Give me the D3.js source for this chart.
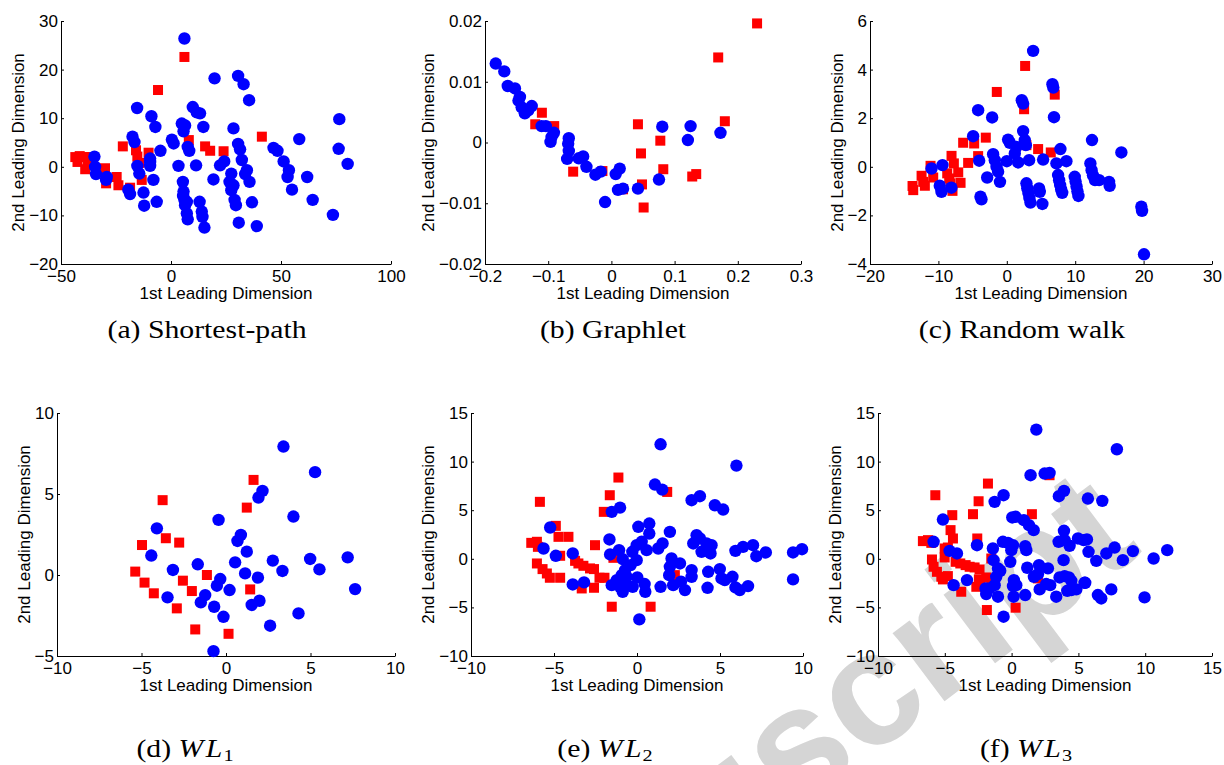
<!DOCTYPE html>
<html>
<head>
<meta charset="utf-8">
<script src="https://cdn.jsdelivr.net/npm/d3@7"></script>
<style>
  body { margin: 0; background: #fff; }
  svg { display: block; }
</style>
</head>
<body>
<svg id="fig" width="1224" height="765"></svg>
<script>
// ---- Shortest-path kernel embedding ----
const shortestPathBlue = [[6.1,26.4],[19.8,18.2],[30.5,18.7],[33,17],[35.5,13.7],[-15.4,12.1],[-8.9,10.4],[-7.1,8.2],[9.9,12.3],[11.7,11.2],[13.2,11],[14.7,8.2],[4.9,8.9],[6.4,8.5],[5.7,7.3],[-17.5,6.2],[-16.6,5.1],[-4.8,3.3],[-9.5,1.7],[-9.5,0.2],[-8,-2.7],[-6.5,-7.2],[-12.2,-8],[-12.5,-5.3],[-19.4,-4.7],[-18.6,-5.6],[-15.3,0.2],[-14.4,-1.4],[-34.8,2.1],[-34.5,0],[-34.1,-1.5],[-29.2,-2.1],[-29.5,-2.7],[0.4,5.6],[1.2,4.8],[7.6,4.1],[8.3,3.3],[3.4,0.2],[11.4,0.3],[5.4,-3.1],[5.7,-5.1],[6.1,-6.8],[7.2,-7.2],[6.4,-7.9],[7.2,-9.6],[7.6,-10.8],[13,-7.2],[14,-9.2],[14.3,-10.3],[15.2,-12.5],[19.3,-2.6],[22.3,0.3],[24.2,1.1],[28.4,7.9],[30.5,4.7],[31.4,3.6],[32.2,1.4],[27.4,-1.4],[26.6,-3.1],[28.4,-3.8],[27.4,-4.8],[28.9,-6.8],[29.5,-7.9],[30.8,-11.5],[34.5,-0.7],[33.7,-1.5],[35.7,-3.1],[36.8,-7.3],[39,-12.2],[46.6,3.9],[48.4,3.3],[51.2,1.1],[53.6,-0.7],[53,-2.1],[55,-4.7],[58.3,5.7],[61.9,-2.1],[64.4,-6.8],[73.6,-9.9],[76.5,9.8],[76.2,3.7],[80.3,0.6],[-9.5,1.0],[5.5,-6.0]];
const shortestPathRed = [[-43.5,2.0],[-41.5,2.2],[-39.5,2.0],[-37.5,2.0],[-42.5,1.0],[-39,-0.5],[-37.8,0.5],[-30,-0.3],[-29.5,-3.4],[-24.7,-2.1],[-23.9,-3.8],[-21.9,4.2],[-15.9,3.4],[-15.3,2.1],[-14.4,0.8],[-13.3,-2.7],[-10.2,2.9],[-5.9,15.8],[6.1,22.6],[8.1,5.5],[15.5,4.2],[17.8,3.3],[23.9,3.2],[41.3,6.2],[-18.6,-4.3]];

// ---- Graphlet kernel embedding ----
const graphletBlue = [[-0.183,0.013],[-0.1695,0.0117],[-0.164,0.0093],[-0.1526,0.0089],[-0.1447,0.0075],[-0.147,0.0069],[-0.142,0.0058],[-0.137,0.0048],[-0.126,0.006],[-0.1316,0.0053],[-0.1105,0.0027],[-0.1037,0.0027],[-0.091,0.0016],[-0.0947,0.0009],[-0.0963,0.0001],[-0.0674,0.0007],[-0.0684,-0.0002],[-0.0674,-0.0014],[-0.07,-0.0027],[-0.0516,-0.0026],[-0.0447,-0.0023],[-0.0395,-0.004],[-0.0253,-0.0053],[-0.0168,-0.0048],[-0.01,-0.0098],[0.0068,-0.0052],[0.0132,-0.0043],[0.0105,-0.0078],[0.0184,-0.0076],[0.042,-0.0076],[0.0753,-0.0061],[0.0805,0.0026],[0.121,0.0004],[0.1253,0.0027],[0.1726,0.0016]];
const graphletRed = [[0.2305,0.0196],[0.169,0.014],[0.1795,0.0035],[-0.11,0.0049],[-0.1205,0.003],[-0.0905,0.0027],[-0.0605,-0.0048],[-0.0142,-0.0047],[0.042,0.003],[0.0468,-0.0018],[0.0484,-0.0069],[0.051,-0.0107],[0.0774,0.0003],[0.0821,-0.0044],[0.1279,-0.0056],[0.1342,-0.0052],[0.0184,-0.0077]];

// ---- Random walk kernel embedding ----
const randomWalkBlue = [[3.85,4.77],[6.67,3.4],[6.8,3.26],[6.9,2.04],[2.19,2.74],[2.39,2.6],[-4.19,2.33],[-2.14,2.03],[-4.92,1.26],[0.19,1.12],[0.44,0.99],[2.39,1.47],[2.63,1.1],[2.78,0.89],[1.41,0.82],[1.17,0.55],[1.66,0.18],[3.26,0.27],[5.31,0.3],[0,0.23],[-2,0.52],[-1.75,0.27],[-1.5,0],[-1.27,-0.2],[-1,-0.62],[-2.87,-0.44],[-4.04,0.25],[-3.85,-1.23],[-3.7,-1.34],[-11,-0.07],[-9.4,0.07],[-9.8,-0.78],[-9.55,-1.03],[-8.1,-0.86],[2.87,-0.68],[3.0,-0.88],[3.16,-1.08],[3.3,-1.28],[3.46,-1.47],[4.72,-0.89],[4.82,-1.03],[5.2,-1.53],[7.25,0.14],[7.84,0.73],[8.71,0.23],[7.5,-0.34],[7.65,-0.55],[7.8,-0.75],[7.95,-0.93],[8.1,-1.07],[9.93,-0.41],[10.06,-0.61],[10.2,-0.81],[10.33,-1.01],[10.47,-1.2],[12.46,1.1],[12.22,0.14],[12.4,-0.14],[12.6,-0.35],[12.9,-0.55],[13.5,-0.55],[14.95,-0.62],[15.04,-0.78],[16.75,0.59],[19.67,-1.64],[19.77,-1.81],[20.06,-3.6]];
const randomWalkRed = [[2.68,4.15],[-1.46,3.08],[7.01,2.97],[2.53,2.37],[-3.07,1.2],[-6.38,0.99],[-4.77,0.96],[4.58,0.73],[6.43,0.59],[2.87,0.89],[-5.65,0.16],[-4.19,0.44],[-8.08,0.45],[-7.74,0.14],[-7.1,-0.23],[-6.76,-0.66],[-8.71,-0.27],[-8.42,-0.48],[-8.23,-0.68],[-7.94,-0.99],[-12.46,-0.37],[-12.22,-0.62],[-11.98,-0.78],[-10.76,-0.44],[-13.78,-0.79],[-13.68,-0.96],[-11.15,0.04]];

// ---- WL kernel, h = 1 ----
const wl1Blue = [[3.4,7.93],[5.27,6.35],[2.16,5.19],[1.92,4.78],[3.99,3.61],[-0.44,3.4],[-4.09,2.88],[0.88,2.47],[0.68,2.1],[1.23,1.44],[-4.42,1.2],[0.54,0.78],[2.77,0.89],[4.98,0.99],[7.2,1.09],[1.13,0.1],[3.34,0.25],[5.53,0.35],[-1.67,0.66],[-3.14,0.31],[1.89,-0.16],[-0.34,-0.25],[-0.54,-0.66],[0.21,-0.93],[7.64,-0.87],[-1.23,-1.24],[-1.49,-1.69],[-3.46,-1.38],[-0.7,-1.96],[1.98,-1.59],[1.52,-1.85],[-0.15,-2.58],[4.29,-2.37],[2.61,-3.13],[-0.74,-4.7]];
const wl1Red = [[1.63,5.87],[1.23,4.16],[-3.75,4.62],[-3.56,2.27],[-2.77,2.0],[-4.97,1.85],[-5.37,0.21],[-4.82,-0.47],[-4.27,-1.13],[-2.55,-0.35],[-2.02,-0.99],[-2.91,-2.06],[-1.13,0],[1.43,-0.89],[-1.82,-3.36],[0.15,-3.63]];

// ---- WL kernel, h = 2 ----
const wl2Blue = [[1.42,11.78],[5.99,9.59],[1.08,7.64],[1.52,7.12],[3.29,6.03],[3.79,6.44],[4.69,5.51],[5.19,5.07],[-1.52,4.83],[-1.02,5.27],[-5.23,3.22],[0.08,3.29],[0.74,3.63],[0.74,2.6],[1.98,2.77],[-1.66,1.99],[-0.02,1.4],[0.28,1.75],[0.58,0.89],[-0.28,0.72],[-0.02,-0.14],[-1.08,0.89],[-0.86,-0.03],[-1.62,0.45],[1.28,1.06],[1.54,1.58],[3.39,1.58],[3.59,2.43],[3.79,2.09],[3.89,0.72],[4.19,1.58],[4.49,1.4],[4.43,0.55],[-5.63,1.06],[-4.89,0.31],[-3.87,0.55],[-3.87,-2.64],[-3.19,-2.43],[2.08,0.03],[1.98,-0.82],[2.59,-0.48],[1.94,-1.68],[1.42,-2.88],[2.18,-2.71],[2.65,-2.36],[2.89,-3.22],[3.29,-1.16],[3.29,-1.85],[4.29,-1.34],[4.25,-2.98],[4.99,-1.06],[5.09,-2.02],[5.29,-2.19],[5.75,-1.85],[5.93,-2.95],[6.19,-3.22],[6.69,-2.81],[5.93,0.82],[6.39,1.23],[6.99,1.4],[7.19,0.27],[7.76,0.65],[9.4,0.65],[9.94,0.99],[9.4,-2.12],[0.14,-6.23],[0.46,-2.6],[0.5,-3.39],[-0.26,-2.88],[0.02,-1.92],[-1.52,-2.71],[-1.22,-2.19],[-1.02,-2.88],[-0.86,-3.39],[-0.72,-2.53],[-0.62,-1.85],[-0.92,-1.68],[-0.72,-1.16],[-0.38,-0.65]];
const wl2Red = [[-1.12,8.36],[-1.64,6.54],[-2.0,4.83],[1.82,6.88],[-5.85,5.86],[-4.89,3.39],[-4.73,2.26],[-4.13,2.26],[-2.53,1.4],[-6.37,1.64],[-6.03,1.75],[-5.97,1.23],[-4.63,0.31],[-6.03,-0.48],[-5.69,-1.06],[-5.43,-1.51],[-5.25,-1.95],[-4.63,-1.95],[-3.73,-0.21],[-3.53,-0.48],[-3.23,-0.72],[-2.83,-0.99],[-2.59,-1.06],[-2.26,-1.95],[-1.96,-1.95],[-3.33,-3.05],[-2.59,-2.98],[-1.52,-4.93],[0.82,-4.93],[-1.42,0.1],[2.28,-1.68]];

// ---- WL kernel, h = 3 ----
const wl3Blue = [[1.85,13.29],[7.88,11.27],[1.42,8.6],[2.47,8.77],[2.84,8.84],[3.54,6.44],[3.92,6.99],[5.71,6.2],[6.79,5.96],[-1.27,5.86],[-0.6,6.54],[-5.14,4.04],[0.05,4.25],[0.3,4.32],[0.92,3.97],[1.3,3.46],[1.65,2.95],[3.92,2.88],[3.97,1.92],[3.52,1.75],[4.34,1.34],[4.97,2.09],[5.39,1.92],[5.64,1.99],[5.76,0.72],[6.34,-0.21],[7.09,0.55],[7.71,1.16],[8.33,-0.14],[9.08,0.79],[10.63,0.03],[11.65,0.89],[9.95,-3.97],[7.46,-3.15],[6.46,-3.73],[6.71,-4.08],[5.46,-2.47],[3.89,-0.14],[-5.84,1.75],[-4.64,0.82],[-4.09,0.55],[-2.59,1.4],[-4.34,-2.71],[-3.34,-2.19],[-1.4,1.06],[-0.65,1.75],[-0.27,1.64],[0.1,1.4],[-0.02,0.89],[1.02,1.3],[1.1,0.89],[-1.35,-0.14],[-1.02,-0.99],[-0.85,-1.23],[-0.1,-0.31],[-1.15,-1.85],[-1.27,-2.71],[-1.65,-3.05],[-1.95,-3.05],[-1.9,-3.63],[-1.02,-3.9],[0.17,-2.19],[0.1,-2.81],[0.35,-2.71],[0.15,-3.9],[1.02,-3.73],[1.17,-0.92],[2.05,-0.65],[2.72,-0.99],[1.67,-1.85],[1.97,-1.58],[2.1,-3.15],[2.59,-2.6],[2.89,-2.71],[3.34,-3.9],[3.59,-1.92],[3.97,-1.78],[4.29,-1.92],[4.47,-2.26],[4.17,-3.29],[4.47,-3.22],[4.84,-3.15],[5.51,-2.47],[-0.6,-5.96]];
const wl3Red = [[-1.77,7.74],[-5.71,6.54],[-2.47,5.92],[-4.44,4.49],[-2.89,4.59],[1.52,4.59],[2.84,8.6],[-4.57,2.95],[-4.39,2.09],[-6.64,1.82],[-6.26,1.92],[-6.01,1.64],[-2.57,2.09],[-5.01,1.06],[-4.77,1.16],[-5.96,-0.07],[-5.84,-0.82],[-5.59,-1.34],[-5.26,-1.85],[-5.14,-2.12],[-4.77,-1.78],[-5.01,0.14],[-4.19,-0.31],[-3.84,-0.48],[-3.44,-0.65],[-3.14,-0.82],[-2.77,-0.89],[-2.4,-1.1],[-1.9,-1.92],[-2.45,-2.12],[-2.64,-2.88],[-2.35,-2.71],[-1.52,0.03],[-3.77,-3.39],[-1.85,-5.27],[0.3,-5.03],[1.97,-2.02],[-1.52,-2.71]];

// ---- Axis ticks ----
const shortestPathXTicks = [-50, 0, 50, 100];
const shortestPathYTicks = [-20, -10, 0, 10, 20, 30];
const graphletXTicks = [-0.2, -0.1, 0, 0.1, 0.2, 0.3];
const graphletYTicks = [-0.02, -0.01, 0, 0.01, 0.02];
const randomWalkXTicks = [-20, -10, 0, 10, 20, 30];
const randomWalkYTicks = [-4, -2, 0, 2, 4, 6];
const wl1XTicks = [-10, -5, 0, 5, 10];
const wl1YTicks = [-5, 0, 5, 10];
const wl2XTicks = [-10, -5, 0, 5, 10];
const wl2YTicks = [-10, -5, 0, 5, 10, 15];
const wl3XTicks = [-10, -5, 0, 5, 10, 15];
const wl3YTicks = [-10, -5, 0, 5, 10, 15];

const xAxisTitle = "1st Leading Dimension";
const yAxisTitle = "2nd Leading Dimension";

// Panel layout (pixel frame of each axes box) and captions
const panels = [
  { blue: shortestPathBlue, red: shortestPathRed, xTicks: shortestPathXTicks, yTicks: shortestPathYTicks,
    frame: { left: 61, right: 391, top: 21, bottom: 264 }, caption: { tag: "(a)", text: "Shortest-path" }, capX: 207, capY: 338 },
  { blue: graphletBlue, red: graphletRed, xTicks: graphletXTicks, yTicks: graphletYTicks,
    frame: { left: 485, right: 801, top: 21, bottom: 264 }, caption: { tag: "(b)", text: "Graphlet" }, capX: 613, capY: 338 },
  { blue: randomWalkBlue, red: randomWalkRed, xTicks: randomWalkXTicks, yTicks: randomWalkYTicks,
    frame: { left: 870, right: 1212, top: 21, bottom: 264 }, caption: { tag: "(c)", text: "Random walk" }, capX: 1022, capY: 338 },
  { blue: wl1Blue, red: wl1Red, xTicks: wl1XTicks, yTicks: wl1YTicks,
    frame: { left: 57, right: 395, top: 413, bottom: 656 }, caption: { tag: "(d)", wl: "1" }, capX: 185, capY: 757 },
  { blue: wl2Blue, red: wl2Red, xTicks: wl2XTicks, yTicks: wl2YTicks,
    frame: { left: 471, right: 803, top: 413, bottom: 656 }, caption: { tag: "(e)", wl: "2" }, capX: 605, capY: 757 },
  { blue: wl3Blue, red: wl3Red, xTicks: wl3XTicks, yTicks: wl3YTicks,
    frame: { left: 878, right: 1212, top: 413, bottom: 656 }, caption: { tag: "(f)", wl: "3" }, capX: 1026, capY: 757 }
];

const svg = d3.select("#fig");
const sansFont = "'Liberation Sans', Arial, Helvetica, sans-serif";
const serifFont = "'Liberation Serif', 'Times New Roman', 'DejaVu Serif', serif";
const fmt = v => String(v).replace("-", "\u2212");

// Diagonal background stamp
svg.append("text")
  .attr("transform", "translate(1144,551) rotate(-37)")
  .attr("text-anchor", "end")
  .attr("font-family", sansFont)
  .attr("font-weight", "bold")
  .attr("font-size", 162)
  .attr("fill", "#d5d5d5")
  .text("Manuscript");

panels.forEach(p => {
  const f = p.frame;
  const x = d3.scaleLinear().domain(d3.extent(p.xTicks)).range([f.left, f.right]);
  const y = d3.scaleLinear().domain(d3.extent(p.yTicks)).range([f.bottom, f.top]);
  const g = svg.append("g");

  const xAxis = d3.axisBottom(x).tickValues(p.xTicks).tickFormat(fmt)
    .tickSizeInner(-3).tickSizeOuter(0).tickPadding(6);
  const yAxis = d3.axisLeft(y).tickValues(p.yTicks).tickFormat(fmt)
    .tickSizeInner(-3).tickSizeOuter(0).tickPadding(3);

  const gx = g.append("g").attr("transform", `translate(0,${f.bottom})`).call(xAxis);
  const gy = g.append("g").attr("transform", `translate(${f.left},0)`).call(yAxis);
  [gx, gy].forEach(a => {
    a.attr("font-family", sansFont).attr("font-size", 17);
    a.selectAll("path, line").attr("stroke", "#000").attr("stroke-width", 1);
    a.selectAll("text").attr("fill", "#000");
  });

  // Widest y tick label decides where the y title sits
  let maxW = 0;
  gy.selectAll("text").each(function () { maxW = Math.max(maxW, this.getComputedTextLength()); });

  g.append("text")
    .attr("x", (f.left + f.right) / 2)
    .attr("y", f.bottom + 35)
    .attr("text-anchor", "middle")
    .attr("font-family", sansFont).attr("font-size", 17)
    .text(xAxisTitle);

  const yt = f.left - 3 - maxW - 5;
  g.append("text")
    .attr("transform", `translate(${yt},${(f.top + f.bottom) / 2}) rotate(-90)`)
    .attr("text-anchor", "middle")
    .attr("font-family", sansFont).attr("font-size", 17)
    .text(yAxisTitle);

  // Red squares below, blue circles on top
  const s = 10;
  g.append("g").selectAll("rect").data(p.red).join("rect")
    .attr("x", d => x(d[0]) - s / 2).attr("y", d => y(d[1]) - s / 2)
    .attr("width", s).attr("height", s).attr("fill", "#ff0000");
  g.append("g").selectAll("circle").data(p.blue).join("circle")
    .attr("cx", d => x(d[0])).attr("cy", d => y(d[1]))
    .attr("r", 6.2).attr("fill", "#0000ff");

  // Caption, widened horizontally for a roman book-face look
  const cap = g.append("text")
    .attr("transform", `translate(${p.capX},${p.capY}) scale(1.19,1)`)
    .attr("text-anchor", "middle")
    .attr("font-family", serifFont).attr("font-size", 25)
    .attr("fill", "#000");
  cap.append("tspan").text(p.caption.tag + " ");
  if (p.caption.wl) {
    cap.append("tspan").attr("font-style", "italic").text("W");
    cap.append("tspan").attr("font-style", "italic").attr("dx", 2).text("L");
    cap.append("tspan").attr("font-size", 17).attr("dx", 1).attr("dy", 4).text(p.caption.wl);
  } else {
    cap.append("tspan").text(p.caption.text);
  }
});
</script>
</body>
</html>
